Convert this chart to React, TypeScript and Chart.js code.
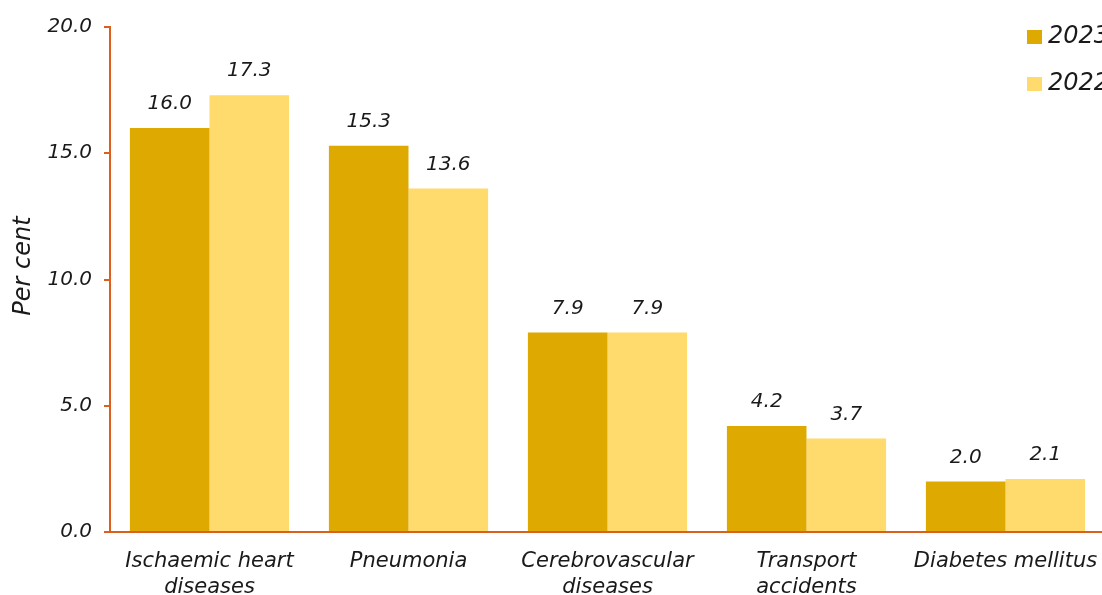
import React, { useEffect, useRef } from "react";
import { Chart, registerables } from "chart.js";

Chart.register(...registerables);

const categories: string[][] = [
  ["Ischaemic heart", "diseases"],
  ["Pneumonia"],
  ["Cerebrovascular", "diseases"],
  ["Transport", "accidents"],
  ["Diabetes mellitus"],
];
const values2023: number[] = [16.0, 15.3, 7.9, 4.2, 2.0];
const values2022: number[] = [17.3, 13.6, 7.9, 3.7, 2.1];
const seriesLabels: string[] = ["2023", "2022"];
const seriesColors: string[] = ["#DEA900", "#FFDA6C"];
const yTitle = "Per cent";

const FONT = "'DejaVu Sans', sans-serif";
const AXIS_COLOR = "#DC5F1E";
const TEXT_COLOR = "#1a1a1a";

const overlayPlugin = {
  id: "overlay",
  afterDatasetsDraw(chart: any) {
    const ctx = chart.ctx;
    ctx.save();
    ctx.font = `italic 20px ${FONT}`;
    ctx.fillStyle = TEXT_COLOR;
    ctx.textAlign = "center";
    ctx.textBaseline = "middle";
    chart.data.datasets.forEach((ds: any, i: number) => {
      const meta = chart.getDatasetMeta(i);
      meta.data.forEach((bar: any, j: number) => {
        const v = ds.data[j] as number;
        ctx.fillText(v.toFixed(1), bar.x, bar.y - 24);
      });
    });
    ctx.restore();
  },
  afterDraw(chart: any) {
    const ctx = chart.ctx;
    ctx.save();
    // legend
    chart.data.datasets.forEach((ds: any, i: number) => {
      const y = 37 + i * 47;
      ctx.fillStyle = ds.backgroundColor;
      ctx.fillRect(1027, y - 7, 15, 14);
      ctx.fillStyle = TEXT_COLOR;
      ctx.font = `italic 24px ${FONT}`;
      ctx.textAlign = "left";
      ctx.textBaseline = "middle";
      ctx.fillText(ds.label, 1048, y);
    });
    // y title
    ctx.translate(24, 266);
    ctx.rotate(-Math.PI / 2);
    ctx.font = `italic 24px ${FONT}`;
    ctx.fillStyle = TEXT_COLOR;
    ctx.textAlign = "center";
    ctx.textBaseline = "middle";
    ctx.fillText(yTitle, 0, 0);
    ctx.restore();
  },
};

export default function App() {
  const ref = useRef<HTMLCanvasElement | null>(null);

  useEffect(() => {
    if (!ref.current) return;
    const chart = new Chart(ref.current, {
      type: "bar",
      data: {
        labels: categories,
        datasets: [
          {
            label: seriesLabels[0],
            data: values2023,
            backgroundColor: seriesColors[0],
            barPercentage: 1,
            categoryPercentage: 0.8,
          },
          {
            label: seriesLabels[1],
            data: values2022,
            backgroundColor: seriesColors[1],
            barPercentage: 1,
            categoryPercentage: 0.8,
          },
        ],
      },
      options: {
        responsive: false,
        animation: false,
        layout: { padding: { top: 27, left: 0, right: 0, bottom: 0 } },
        plugins: {
          legend: { display: false },
          tooltip: { enabled: false },
        },
        scales: {
          x: {
            grid: { display: false, drawTicks: false },
            border: { display: true, color: AXIS_COLOR, width: 2 },
            ticks: {
              color: TEXT_COLOR,
              font: { family: FONT, size: 21, style: "italic", lineHeight: 1.25 },
              padding: 16,
              maxRotation: 0,
              autoSkip: false,
            },
            afterFit(scale: any) {
              scale.height = 63;
              scale.paddingLeft = 0;
              scale.paddingRight = 0;
            },
          },
          y: {
            min: 0,
            max: 20,
            ticks: {
              stepSize: 5,
              color: TEXT_COLOR,
              font: { family: FONT, size: 20, style: "italic" },
              padding: 12,
              callback: (v: any) => Number(v).toFixed(1),
            },
            grid: {
              drawOnChartArea: false,
              drawTicks: true,
              tickLength: 6,
              color: AXIS_COLOR,
              lineWidth: 2,
            },
            border: { display: true, color: AXIS_COLOR, width: 2 },
            afterFit(scale: any) {
              scale.width = 110;
            },
          },
        },
      },
      plugins: [overlayPlugin],
    });
    return () => chart.destroy();
  }, []);

  return (
    <div
      style={{
        position: "fixed",
        left: 0,
        top: 0,
        width: 1102,
        height: 595,
        overflow: "hidden",
        background: "#fff",
      }}
    >
      <canvas ref={ref} width={1105} height={595} style={{ display: "block" }} />
    </div>
  );
}
